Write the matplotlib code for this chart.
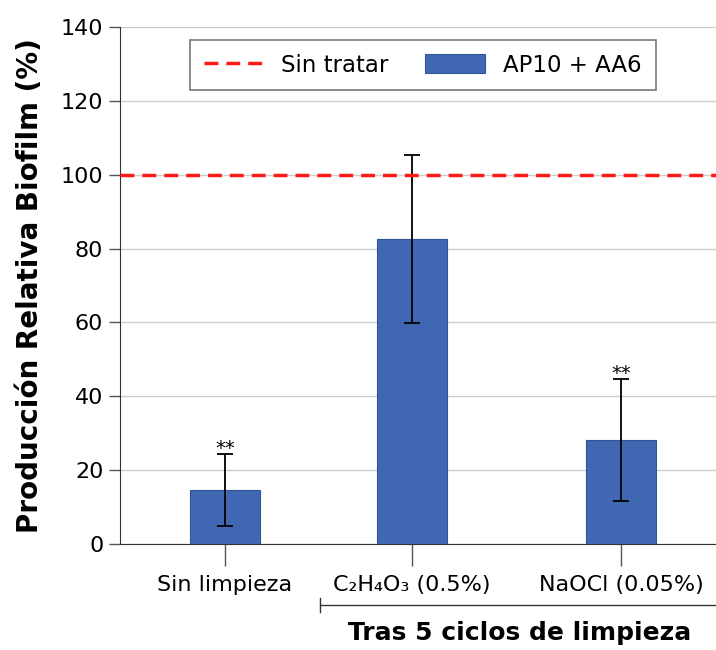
import matplotlib.pyplot as plt
import numpy as np

categories = ['Sin limpieza', 'C₂H₄O₃ (0.5%)', 'NaOCl (0.05%)']
values = [14.6, 82.6, 28.2]
errors = [9.8, 22.7, 16.5]
stars = ['**', '', '**']
control = 100

fig = plt.figure(figsize=(7.16, 6.5), dpi=100)
ax = fig.add_axes([0.1676, 0.1631, 0.8324, 0.7954])

# slightly uneven spacing as in the original figure
x = np.array([0, 0.943, 2.0])
ax.bar(x, values, width=0.352, color='#4068b2', edgecolor='#2f5597', linewidth=0.8,
       label='AP10 + AA6', zorder=3)
ax.errorbar(x, values, yerr=errors, fmt='none', ecolor='black', elinewidth=1.3,
            capsize=5.8, capthick=1.3, zorder=4)
ax.axhline(control, color='#ff1a1a', linestyle=(0, (4, 2.3)), linewidth=2.5,
           label='Sin tratar', zorder=5)

for xi, v, e, s in zip(x, values, errors, stars):
    if s:
        ax.text(xi, v + e - 1.2, s, ha='center', va='bottom', fontsize=14)

ax.set_xlim(-0.53, 2.48)
ax.set_ylim(0, 140)
ax.set_yticks(range(0, 141, 20))
ax.set_xticks(x)
ax.set_xticklabels(categories, fontsize=16)
ax.tick_params(axis='y', labelsize=16, length=8, width=1, color='#555555', pad=4)
ax.tick_params(axis='x', length=16, width=1, color='#555555', pad=6)
ax.grid(axis='y', color='#cccccc', linewidth=1, zorder=0)
ax.set_ylabel('Producción Relativa Biofilm (%)', fontsize=20, fontweight='bold', labelpad=12)
for side in ['top', 'right']:
    ax.spines[side].set_visible(False)
ax.spines['left'].set_color('#333333')
ax.spines['bottom'].set_color('#333333')

leg = ax.legend(loc='upper center', bbox_to_anchor=(0.508, 0.975), ncol=2, fontsize=16.5,
                frameon=True, fancybox=False, edgecolor='#555555', handlelength=2.6,
                handleheight=0.9, columnspacing=1.6, borderpad=0.6, handletextpad=0.8,
                borderaxespad=0)
leg.get_frame().set_linewidth(1.2)

# bracket for grouped categories
trans = ax.get_xaxis_transform()
ax.plot([0.48, 2.6], [-0.118, -0.118], transform=trans, color='#333333', lw=1, clip_on=False)
ax.plot([0.48, 0.48], [-0.104, -0.132], transform=trans, color='#333333', lw=1, clip_on=False)
ax.text(1.49, -0.148, 'Tras 5 ciclos de limpieza', transform=trans,
        ha='center', va='top', fontsize=18, fontweight='bold')

fig.savefig('out.png', dpi=100)
